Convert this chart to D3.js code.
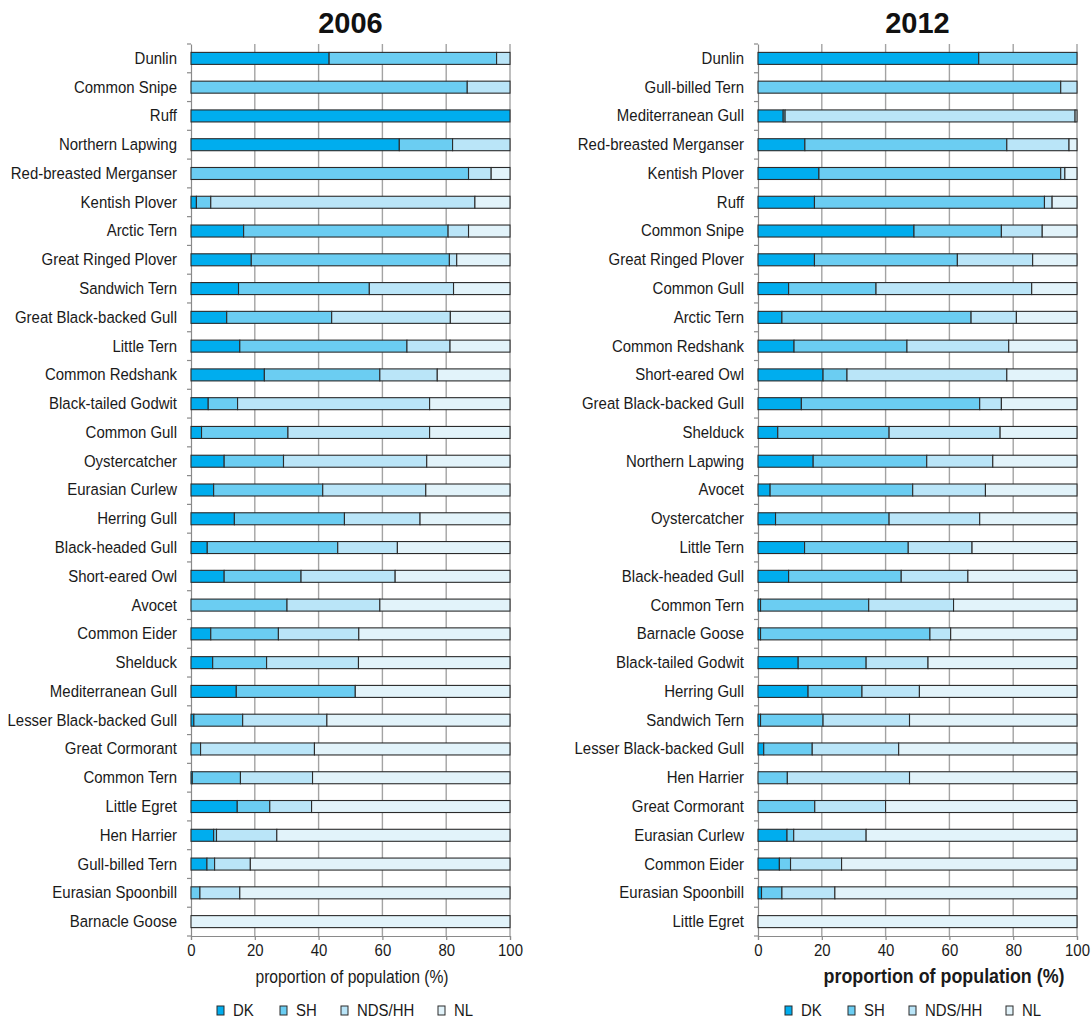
<!DOCTYPE html>
<html>
<head>
<meta charset="utf-8">
<script src="https://cdn.jsdelivr.net/npm/d3@7"></script>
<style>
  html, body { margin: 0; padding: 0; background: #fff; }
  svg { display: block; }
  text { font-family: "Liberation Sans", Arial, sans-serif; fill: #1a1a1a; }
  .title { font-weight: bold; font-size: 29px; fill: #111; }
</style>
</head>
<body>
<svg id="chart" width="1091" height="1024"></svg>
<script>
// Regions (stack order left to right)
const regions = ["DK", "SH", "NDS/HH", "NL"];
const regionColors = ["#00adee", "#6bcdf2", "#bae5f8", "#e2f3fa"];
const xTicks = [0, 20, 40, 60, 80, 100];

// 2006 — share of population (%) by region
const species2006 = ["Dunlin", "Common Snipe", "Ruff", "Northern Lapwing", "Red-breasted Merganser",
  "Kentish Plover", "Arctic Tern", "Great Ringed Plover", "Sandwich Tern", "Great Black-backed Gull",
  "Little Tern", "Common Redshank", "Black-tailed Godwit", "Common Gull", "Oystercatcher",
  "Eurasian Curlew", "Herring Gull", "Black-headed Gull", "Short-eared Owl", "Avocet",
  "Common Eider", "Shelduck", "Mediterranean Gull", "Lesser Black-backed Gull", "Great Cormorant",
  "Common Tern", "Little Egret", "Hen Harrier", "Gull-billed Tern", "Eurasian Spoonbill", "Barnacle Goose"];
const dk2006  = [43.3, 0, 100, 65.3, 0, 1.7, 16.5, 18.9, 14.9, 11.2, 15.3, 23.0, 5.4, 3.3, 10.4, 7.1, 13.6, 5.1, 10.4, 0, 6.2, 6.8, 14.2, 0.9, 0, 0.4, 14.5, 7.1, 5.0, 0, 0];
const sh2006  = [52.5, 86.6, 0, 16.7, 87.0, 4.5, 64.1, 62.1, 41.0, 32.9, 52.4, 36.2, 9.2, 27.1, 18.6, 34.2, 34.5, 40.9, 24.1, 30.1, 21.2, 16.9, 37.3, 15.3, 3.0, 15.1, 10.2, 0.9, 2.4, 2.8, 0];
const nds2006 = [4.2, 13.4, 0, 18.0, 7.1, 82.8, 6.4, 2.3, 26.4, 37.2, 13.5, 18.0, 60.2, 44.4, 44.9, 32.3, 23.7, 18.7, 29.5, 29.1, 25.2, 28.8, 0, 26.4, 35.7, 22.6, 13.1, 18.9, 11.2, 12.5, 0];
const nl2006  = [0, 0, 0, 0, 5.9, 11.0, 13.0, 16.7, 17.7, 18.7, 18.8, 22.8, 25.2, 25.2, 26.1, 26.4, 28.2, 35.3, 36.0, 40.8, 47.4, 47.5, 48.5, 57.4, 61.3, 61.9, 62.2, 73.1, 81.4, 84.7, 100];

// 2012 — share of population (%) by region
const species2012 = ["Dunlin", "Gull-billed Tern", "Mediterranean Gull", "Red-breasted Merganser", "Kentish Plover",
  "Ruff", "Common Snipe", "Great Ringed Plover", "Common Gull", "Arctic Tern",
  "Common Redshank", "Short-eared Owl", "Great Black-backed Gull", "Shelduck", "Northern Lapwing",
  "Avocet", "Oystercatcher", "Little Tern", "Black-headed Gull", "Common Tern",
  "Barnacle Goose", "Black-tailed Godwit", "Herring Gull", "Sandwich Tern", "Lesser Black-backed Gull",
  "Hen Harrier", "Great Cormorant", "Eurasian Curlew", "Common Eider", "Eurasian Spoonbill", "Little Egret"];
const dk2012  = [69.2, 0, 7.9, 14.7, 19.1, 17.7, 48.9, 17.7, 9.6, 7.5, 11.3, 20.4, 13.6, 6.2, 17.3, 3.8, 5.5, 14.6, 9.6, 0.8, 0.8, 12.6, 15.7, 0.8, 1.8, 0, 0, 9.1, 6.7, 1.1, 0];
const sh2012  = [30.8, 94.9, 0.6, 63.3, 75.8, 72.1, 27.4, 44.8, 27.4, 59.3, 35.4, 7.5, 55.9, 34.9, 35.6, 44.7, 35.6, 32.5, 35.3, 33.9, 53.1, 21.3, 16.9, 19.6, 15.2, 9.2, 17.8, 2.1, 3.5, 6.4, 0];
const nds2012 = [0, 5.1, 90.9, 19.5, 1.3, 2.4, 12.8, 23.6, 48.8, 14.2, 31.9, 50.1, 6.8, 34.8, 20.7, 22.8, 28.4, 20.0, 20.9, 26.6, 6.5, 19.4, 18.0, 27.1, 27.1, 38.3, 22.2, 22.7, 16.0, 16.6, 0];
const nl2012  = [0, 0, 0.6, 2.5, 3.8, 7.8, 10.9, 13.9, 14.2, 19.0, 21.4, 22.0, 23.7, 24.1, 26.4, 28.7, 30.5, 32.9, 34.2, 38.7, 39.6, 46.7, 49.4, 52.5, 55.9, 52.5, 60.0, 66.1, 73.8, 75.9, 100];

const svg = d3.select("#chart");
const NARROW = 0.88;   // horizontal squeeze for the condensed lettering

function drawPanel(cfg) {
  const { title, species, series, x0, x1, axisTitle, legendX } = cfg;
  const top = 44, bottom = 936, barH = 12;

  const x = d3.scaleLinear().domain([0, 100]).range([x0, x1]);
  const y = d3.scaleBand().domain(species).range([top, bottom]).padding(0);

  const g = svg.append("g");

  // vertical gridlines
  g.append("g").selectAll("line")
    .data(xTicks.filter(t => t > 0))
    .join("line")
    .attr("x1", d => x(d)).attr("x2", d => x(d))
    .attr("y1", top).attr("y2", bottom)
    .attr("stroke", "#a3a3a3").attr("stroke-width", 1.4);

  // x axis
  const xAxis = g.append("g")
    .attr("transform", `translate(0,${bottom})`)
    .call(d3.axisBottom(x).tickValues(xTicks).tickSize(4).tickPadding(4).tickFormat(d3.format("d")));
  xAxis.select(".domain").attr("stroke", "#8a8a8a").attr("stroke-width", 1.2);
  xAxis.selectAll(".tick line").attr("stroke", "#8a8a8a").attr("stroke-width", 1.2);
  xAxis.selectAll(".tick text")
    .attr("font-size", 17).attr("fill", "#1a1a1a")
    .style("font-family", '"Liberation Sans", Arial, sans-serif')
    .attr("transform", `scale(${NARROW},1)`);

  // y axis: labels centred on bands, tick marks on band boundaries
  const yAxis = g.append("g")
    .attr("transform", `translate(${x0},0)`)
    .call(d3.axisLeft(y).tickSize(0).tickPadding(14));
  yAxis.select(".domain").attr("stroke", "#8a8a8a").attr("stroke-width", 1.2);
  yAxis.selectAll(".tick text")
    .attr("font-size", 17).attr("fill", "#1a1a1a")
    .style("font-family", '"Liberation Sans", Arial, sans-serif')
    .attr("x", 0)
    .attr("transform", `translate(-14,0) scale(${NARROW},1)`);
  const bounds = species.map(s => y(s)).concat([bottom]);
  g.append("g").selectAll("line")
    .data(bounds)
    .join("line")
    .attr("x1", x0 - 4).attr("x2", x0)
    .attr("y1", d => d).attr("y2", d => d)
    .attr("stroke", "#8a8a8a").attr("stroke-width", 1.2);

  // stacked bars
  const rows = species.map((s, i) => {
    const obj = { species: s };
    regions.forEach((r, k) => obj[r] = series[k][i]);
    return obj;
  });
  const stacked = d3.stack().keys(regions)(rows);
  const barGroup = g.append("g");
  stacked.forEach((layer, k) => {
    barGroup.append("g")
      .attr("fill", regionColors[k])
      .selectAll("rect")
      .data(layer.filter(d => d[1] - d[0] > 0))
      .join("rect")
      .attr("x", d => x(d[0]))
      .attr("width", d => x(d[1]) - x(d[0]))
      .attr("y", d => y(d.data.species) + (y.bandwidth() - barH) / 2)
      .attr("height", barH)
      .attr("stroke", "#2b2b2b")
      .attr("stroke-width", 1.1);
  });

  // panel title
  svg.append("text").attr("class", "title")
    .attr("x", (x0 + x1) / 2).attr("y", 33)
    .attr("text-anchor", "middle").text(title);

  // x axis title
  svg.append("text")
    .attr("transform", `translate(${axisTitle.x},983) scale(${NARROW},1)`)
    .attr("text-anchor", "middle")
    .attr("font-size", axisTitle.size)
    .attr("font-weight", axisTitle.weight)
    .text("proportion of population (%)");

  // legend
  const legendOffsets = [0, 63, 124, 221];
  const lg = svg.append("g").attr("transform", `translate(${legendX},1006)`);
  regions.forEach((r, k) => {
    const item = lg.append("g").attr("transform", `translate(${legendOffsets[k]},0)`);
    item.append("rect").attr("width", 7).attr("height", 9)
      .attr("fill", regionColors[k]).attr("stroke", "#2b2b2b").attr("stroke-width", 1);
    item.append("text")
      .attr("transform", `translate(16,9.5) scale(${NARROW},1)`)
      .attr("font-size", 17).text(r);
  });
}

drawPanel({
  title: "2006", species: species2006,
  series: [dk2006, sh2006, nds2006, nl2006],
  x0: 191, x1: 510, axisTitle: { x: 352, size: 17.8, weight: "normal" }, legendX: 217
});
drawPanel({
  title: "2012", species: species2012,
  series: [dk2012, sh2012, nds2012, nl2012],
  x0: 758, x1: 1077, axisTitle: { x: 944, size: 20.3, weight: "bold" }, legendX: 785
});
</script>
</body>
</html>
